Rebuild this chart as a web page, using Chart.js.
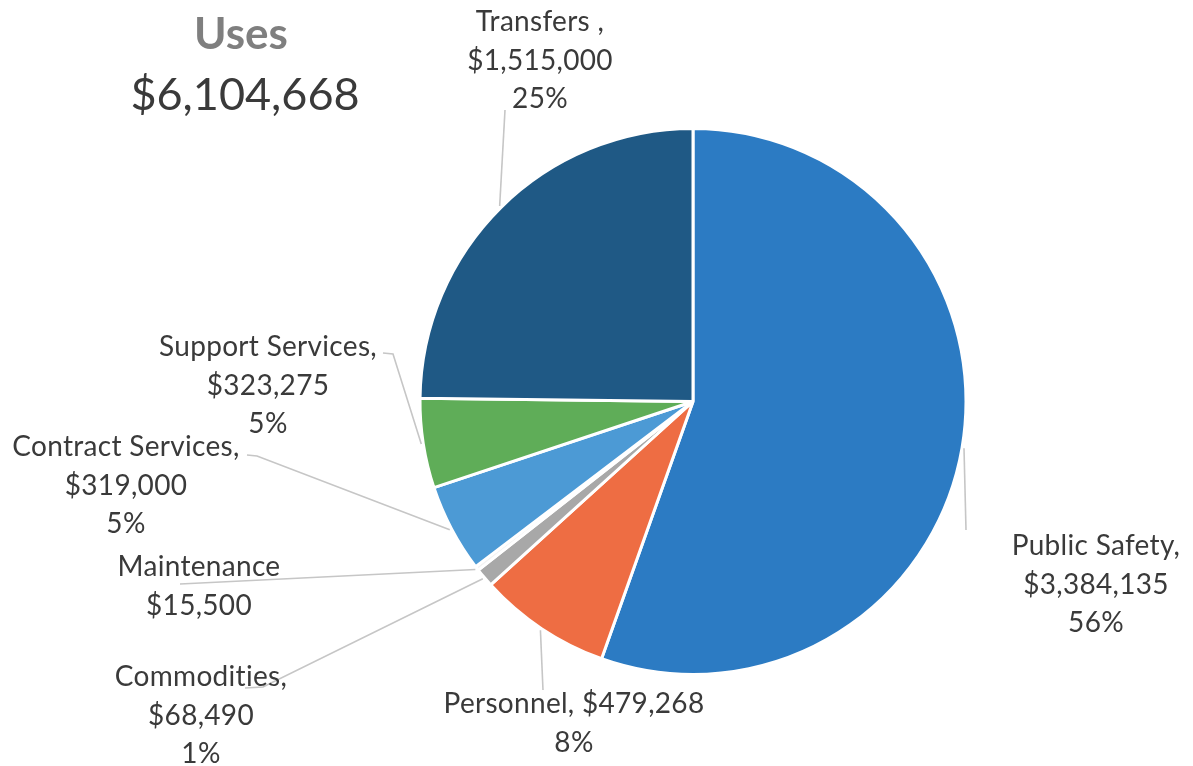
<!DOCTYPE html>
<html lang="en">
<head>
<meta charset="utf-8">
<title>Uses</title>
<script src="https://cdn.jsdelivr.net/npm/chart.js@4/dist/chart.umd.min.js"></script>
<style>
    html, body { margin: 0; padding: 0; background: #ffffff; }
    #wrap { position: relative; width: 1193px; height: 766px; }
</style>
</head>
<body>
<div id="wrap">
    <canvas id="chart-uses" width="1193" height="766"></canvas>
</div>
<script>
// Valores do orçamento (usos)
const categories = ['Public Safety', 'Personnel', 'Commodities', 'Maintenance', 'Contract Services', 'Support Services', 'Transfers'];
const values = [3384135, 479268, 68490, 15500, 319000, 323275, 1515000];
const percentLabels = ['56%', '8%', '1%', '', '5%', '5%', '25%'];
const nameLabels = ['Public Safety,', 'Personnel,', 'Commodities,', 'Maintenance', 'Contract Services,', 'Support Services,', 'Transfers ,'];

const sliceColors = ['#2C7BC3', '#EE6D43', '#A8A8A8', '#F3F3F3', '#4C9AD5', '#5FAD58', '#1F5985'];

// Posição dos rótulos e cotovelos das linhas-guia
const labelLayout = [
    { x: 1096, y: 546, path: [[966, 530]] },
    { x: 574, y: 704, path: [[543, 690]], oneLine: true },
    { x: 201, y: 677, path: [[263, 687], [245, 688]] },
    { x: 199, y: 567, path: [[180, 584]] },
    { x: 126, y: 447, path: [[257, 456], [247, 455]] },
    { x: 268, y: 347, path: [[393, 354], [383, 353]] },
    { x: 540, y: 22, path: [[505, 110]] }
];

const total = values.reduce((a, b) => a + b, 0);
const fmtMoney = v => '$' + v.toLocaleString('en-US');

const LINE_H = 38.5;
const LABEL_FONT = '28px Lato';
const TEXT_COLOR = '#3A3A3A';

const outsideLabels = {
    id: 'outsideLabels',
    afterDatasetsDraw(chart) {
        const ctx = chart.ctx;
        const arcs = chart.getDatasetMeta(0).data;
        ctx.save();

        arcs.forEach((arc, i) => {
            const lay = labelLayout[i];
            const mid = (arc.startAngle + arc.endAngle) / 2;
            const r = arc.outerRadius + 2;
            const sx = arc.x + Math.cos(mid) * r;
            const sy = arc.y + Math.sin(mid) * r;

            // linha-guia
            ctx.strokeStyle = '#C6C6C6';
            ctx.lineWidth = 1.6;
            ctx.beginPath();
            ctx.moveTo(sx, sy);
            lay.path.forEach(p => ctx.lineTo(p[0], p[1]));
            ctx.stroke();

            // texto (letterSpacing evita a ligadura "ti" da Lato)
            let lines;
            if (lay.oneLine) {
                lines = [nameLabels[i] + ' ' + fmtMoney(values[i]), percentLabels[i]];
            } else {
                lines = [nameLabels[i], fmtMoney(values[i]), percentLabels[i]];
            }
            ctx.font = LABEL_FONT;
            ctx.letterSpacing = '0.3px';
            ctx.fillStyle = TEXT_COLOR;
            ctx.textAlign = 'center';
            ctx.textBaseline = 'middle';
            lines.filter(t => t).forEach((t, k) => {
                ctx.fillText(t, lay.x, lay.y + k * LINE_H);
            });
        });

        // título e total
        ctx.letterSpacing = '0px';
        ctx.textAlign = 'center';
        ctx.textBaseline = 'middle';
        ctx.fillStyle = '#7F7F7F';
        ctx.font = 'bold 44px Lato';
        ctx.fillText('Uses', 241, 35);
        ctx.fillStyle = '#3A3A3A';
        ctx.font = '45px Lato';
        ctx.fillText(fmtMoney(total), 245, 95);

        ctx.restore();
    }
};

new Chart(document.getElementById('chart-uses'), {
    type: 'pie',
    data: {
        labels: categories,
        datasets: [{
            data: values,
            backgroundColor: sliceColors,
            borderColor: '#ffffff',
            borderWidth: 3
        }]
    },
    options: {
        responsive: false,
        animation: false,
        layout: {
            padding: { left: 418, right: 225, top: 127, bottom: 90 }
        },
        plugins: {
            legend: { display: false },
            tooltip: { enabled: false }
        }
    },
    plugins: [outsideLabels]
});
</script>
</body>
</html>
